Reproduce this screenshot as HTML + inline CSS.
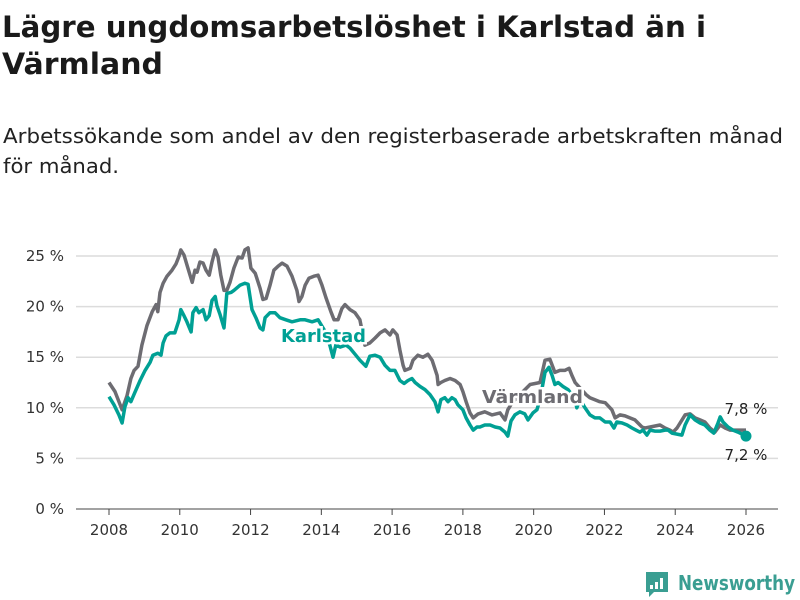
<!DOCTYPE html>
<html><head><meta charset="utf-8"><style>
html,body{margin:0;padding:0;background:#fff;width:800px;height:600px;overflow:hidden}
svg text{font-family:"DejaVu Sans","Liberation Sans",sans-serif}
</style></head><body>
<svg id="chart" width="800" height="600" viewBox="0 0 800 600" xmlns="http://www.w3.org/2000/svg">
<text x="2" y="37" font-size="29" font-weight="bold" fill="#1a1a1a" textLength="704" lengthAdjust="spacingAndGlyphs">Lägre ungdomsarbetslöshet i Karlstad än i</text>
<text x="2" y="74" font-size="29" font-weight="bold" fill="#1a1a1a" textLength="161" lengthAdjust="spacingAndGlyphs">Värmland</text>
<text x="3" y="143" font-size="20" fill="#222" textLength="780" lengthAdjust="spacingAndGlyphs">Arbetssökande som andel av den registerbaserade arbetskraften månad</text>
<text x="3" y="173" font-size="20" fill="#222" textLength="116" lengthAdjust="spacingAndGlyphs">för månad.</text>
<g id="grid"></g><g id="xaxis"></g><g id="lines"></g><g id="labels"></g>
<g>
<path d="M646 572 h22 v20 h-14 l-5 5 v-5 h-3 z" fill="#3a9e92"/>
<rect x="650" y="585" width="3" height="4" fill="#fff"/><rect x="655" y="582" width="3" height="7" fill="#fff"/><rect x="660" y="578" width="3" height="11" fill="#fff"/>
<text x="678" y="590" font-size="20" font-weight="bold" fill="#3a9e92" textLength="117" lengthAdjust="spacingAndGlyphs">Newsworthy</text>
</g>
</svg>
<script>
const yTicks=[0,5,10,15,20,25];
const xTicks=[2008,2010,2012,2014,2016,2018,2020,2022,2024,2026];
const varmYears=[2008.00,2008.17,2008.37,2008.51,2008.62,2008.71,2008.82,2008.93,2009.07,2009.22,2009.33,2009.38,2009.44,2009.53,2009.64,2009.78,2009.89,2009.98,2010.03,2010.12,2010.23,2010.35,2010.43,2010.49,2010.57,2010.66,2010.74,2010.83,2010.91,2011.00,2011.08,2011.16,2011.25,2011.33,2011.42,2011.53,2011.65,2011.76,2011.84,2011.93,2012.01,2012.13,2012.27,2012.35,2012.44,2012.55,2012.66,2012.78,2012.89,2013.03,2013.17,2013.31,2013.37,2013.45,2013.54,2013.65,2013.79,2013.91,2014.02,2014.13,2014.27,2014.36,2014.47,2014.58,2014.67,2014.81,2014.95,2015.09,2015.23,2015.37,2015.52,2015.66,2015.80,2015.94,2016.02,2016.14,2016.22,2016.31,2016.36,2016.51,2016.59,2016.73,2016.87,2017.01,2017.13,2017.27,2017.30,2017.38,2017.49,2017.64,2017.78,2017.92,2018.00,2018.09,2018.20,2018.29,2018.43,2018.62,2018.82,2019.05,2019.19,2019.27,2019.39,2019.61,2019.90,2020.18,2020.32,2020.46,2020.60,2020.74,2020.88,2021.00,2021.08,2021.17,2021.48,2021.59,2021.73,2021.87,2022.02,2022.21,2022.30,2022.44,2022.58,2022.72,2022.86,2023.06,2023.15,2023.29,2023.57,2023.71,2023.85,2023.94,2024.05,2024.28,2024.42,2024.56,2024.70,2024.84,2024.98,2025.12,2025.27,2025.41,2025.55,2025.72,2026.00];
const varmValues=[12.5,11.6,9.8,11.2,12.9,13.7,14.1,16.2,18.1,19.5,20.2,19.5,21.4,22.3,23.0,23.6,24.2,25.0,25.6,25.1,23.8,22.4,23.6,23.4,24.4,24.3,23.6,23.1,24.4,25.6,24.9,23.1,21.6,21.6,22.4,23.8,24.9,24.8,25.6,25.8,23.8,23.3,21.8,20.7,20.8,22.1,23.6,24.0,24.3,24.0,23.0,21.6,20.5,21.0,22.1,22.8,23.0,23.1,22.1,20.9,19.5,18.7,18.7,19.8,20.2,19.7,19.4,18.7,16.2,16.4,16.9,17.4,17.7,17.2,17.7,17.2,15.7,14.2,13.7,13.9,14.7,15.2,15.0,15.3,14.7,13.2,12.3,12.5,12.7,12.9,12.7,12.3,11.6,10.6,9.5,9.0,9.4,9.6,9.3,9.5,8.8,9.8,10.5,11.3,12.3,12.5,14.7,14.8,13.5,13.7,13.7,13.9,13.2,12.5,11.3,11.0,10.8,10.6,10.5,9.8,9.0,9.3,9.2,9.0,8.8,8.1,8.0,8.1,8.3,8.0,7.8,7.6,8.0,9.3,9.4,9.0,8.8,8.6,8.0,7.6,8.3,8.0,7.8,7.8,7.8];
const karlYears=[2008.00,2008.14,2008.28,2008.37,2008.45,2008.54,2008.62,2008.73,2008.88,2009.02,2009.16,2009.24,2009.38,2009.47,2009.53,2009.61,2009.72,2009.86,2009.98,2010.03,2010.12,2010.20,2010.32,2010.37,2010.46,2010.54,2010.66,2010.74,2010.83,2010.91,2011.00,2011.05,2011.14,2011.25,2011.33,2011.45,2011.53,2011.70,2011.84,2011.93,2012.04,2012.15,2012.27,2012.35,2012.41,2012.55,2012.69,2012.83,2013.00,2013.17,2013.40,2013.54,2013.74,2013.91,2014.08,2014.24,2014.33,2014.41,2014.53,2014.70,2014.81,2014.95,2015.09,2015.26,2015.37,2015.52,2015.66,2015.80,2015.94,2016.08,2016.22,2016.34,2016.45,2016.56,2016.65,2016.79,2016.93,2017.07,2017.21,2017.30,2017.38,2017.49,2017.58,2017.69,2017.78,2017.86,2018.00,2018.09,2018.20,2018.29,2018.40,2018.48,2018.62,2018.77,2018.91,2019.05,2019.19,2019.27,2019.36,2019.47,2019.61,2019.75,2019.84,2019.98,2020.09,2020.18,2020.32,2020.43,2020.52,2020.60,2020.69,2020.83,2020.97,2021.08,2021.17,2021.22,2021.31,2021.45,2021.59,2021.73,2021.87,2022.02,2022.16,2022.27,2022.35,2022.50,2022.64,2022.78,2022.89,2023.00,2023.09,2023.20,2023.29,2023.43,2023.57,2023.71,2023.80,2023.91,2024.05,2024.19,2024.28,2024.42,2024.56,2024.70,2024.84,2024.98,2025.09,2025.21,2025.27,2025.35,2025.49,2025.63,2025.77,2026.00];
const karlValues=[11.1,10.3,9.3,8.5,10.1,11.0,10.6,11.5,12.7,13.7,14.5,15.2,15.4,15.2,16.4,17.1,17.4,17.4,18.7,19.7,19.1,18.5,17.5,19.4,19.9,19.4,19.7,18.7,19.1,20.6,21.0,20.1,19.2,17.9,21.3,21.4,21.6,22.1,22.3,22.2,19.7,18.9,17.9,17.7,18.9,19.4,19.4,18.9,18.7,18.5,18.7,18.7,18.5,18.7,17.7,16.2,15.0,16.2,16.0,16.2,15.9,15.3,14.7,14.1,15.1,15.2,15.0,14.2,13.7,13.7,12.7,12.4,12.7,12.9,12.5,12.1,11.8,11.3,10.6,9.6,10.8,11.0,10.6,11.0,10.8,10.3,9.8,9.0,8.3,7.8,8.1,8.1,8.3,8.3,8.1,8.0,7.6,7.2,8.7,9.3,9.6,9.4,8.8,9.5,9.8,10.8,13.5,14.0,13.2,12.3,12.5,12.1,11.8,11.3,10.8,10.0,10.8,10.0,9.3,9.0,9.0,8.6,8.6,8.0,8.6,8.5,8.3,8.0,7.8,7.6,7.8,7.3,7.8,7.7,7.7,7.8,7.8,7.5,7.4,7.3,8.3,9.3,8.8,8.5,8.3,7.8,7.5,8.5,9.1,8.6,8.1,7.8,7.6,7.2];
const endLabels=["7,8 %","7,2 %"];

const NS="http://www.w3.org/2000/svg";
const xS=y=>109+(y-2008)*(746-109)/18;
const yS=v=>509-v*(509-256)/25;
function mk(tag,parent,attrs){const e=document.createElementNS(NS,tag);for(const k in attrs)e.setAttribute(k,attrs[k]);parent.appendChild(e);return e;}
const grid=document.getElementById('grid'),xa=document.getElementById('xaxis'),lines=document.getElementById('lines'),labels=document.getElementById('labels');
yTicks.forEach(t=>{
  const l=mk('line',grid,{x1:76,x2:778,y1:yS(t),y2:yS(t),stroke:t===0?'#444':'#dcdcdc','stroke-width':t===0?1:1.5});
  
  
  const tx=mk('text',grid,{x:64,y:yS(t)+5,'font-size':15,'text-anchor':'end',fill:'#333'});
  tx.textContent=t+' %';
  
  
});
xTicks.forEach(t=>{
  const l=mk('line',xa,{x1:xS(t),x2:xS(t),y1:509,y2:515,stroke:'#444','stroke-width':1});
  
  
  const tx=mk('text',xa,{x:xS(t),y:535,'font-size':15,'text-anchor':'middle',fill:'#333'});
  tx.textContent=t;
  
  
});
function path(xs,vs){return xs.map((x,i)=>(i?'L':'M')+xS(x).toFixed(1)+' '+yS(vs[i]).toFixed(1)).join(' ');}
const pv=mk('path',lines,{d:path(varmYears,varmValues),fill:'none',stroke:'#6d6c72','stroke-width':3.5,'stroke-linejoin':'round'});


const pk=mk('path',lines,{d:path(karlYears,karlValues),fill:'none',stroke:'#00a094','stroke-width':3.5,'stroke-linejoin':'round'});


const dot=mk('circle',lines,{cx:xS(karlYears[karlYears.length-1]),cy:yS(karlValues[karlValues.length-1]),r:5.5,fill:'#00a094'});


const lk=mk('text',labels,{x:281,y:342,'font-size':18,'font-weight':'bold',fill:'#00a094',stroke:'#fff','stroke-width':5,'paint-order':'stroke','textLength':85,'lengthAdjust':'spacingAndGlyphs'});
lk.textContent='Karlstad';


const lv=mk('text',labels,{x:482,y:403,'font-size':18,'font-weight':'bold',fill:'#6d6c72',stroke:'#fff','stroke-width':5,'paint-order':'stroke','textLength':101,'lengthAdjust':'spacingAndGlyphs'});
lv.textContent='Värmland';


const e1=mk('text',labels,{x:746,y:414,'font-size':15,'text-anchor':'middle',fill:'#222'});
e1.textContent=endLabels[0];


const e2=mk('text',labels,{x:746,y:460,'font-size':15,'text-anchor':'middle',fill:'#222'});
e2.textContent=endLabels[1];


</script>
</body></html>
